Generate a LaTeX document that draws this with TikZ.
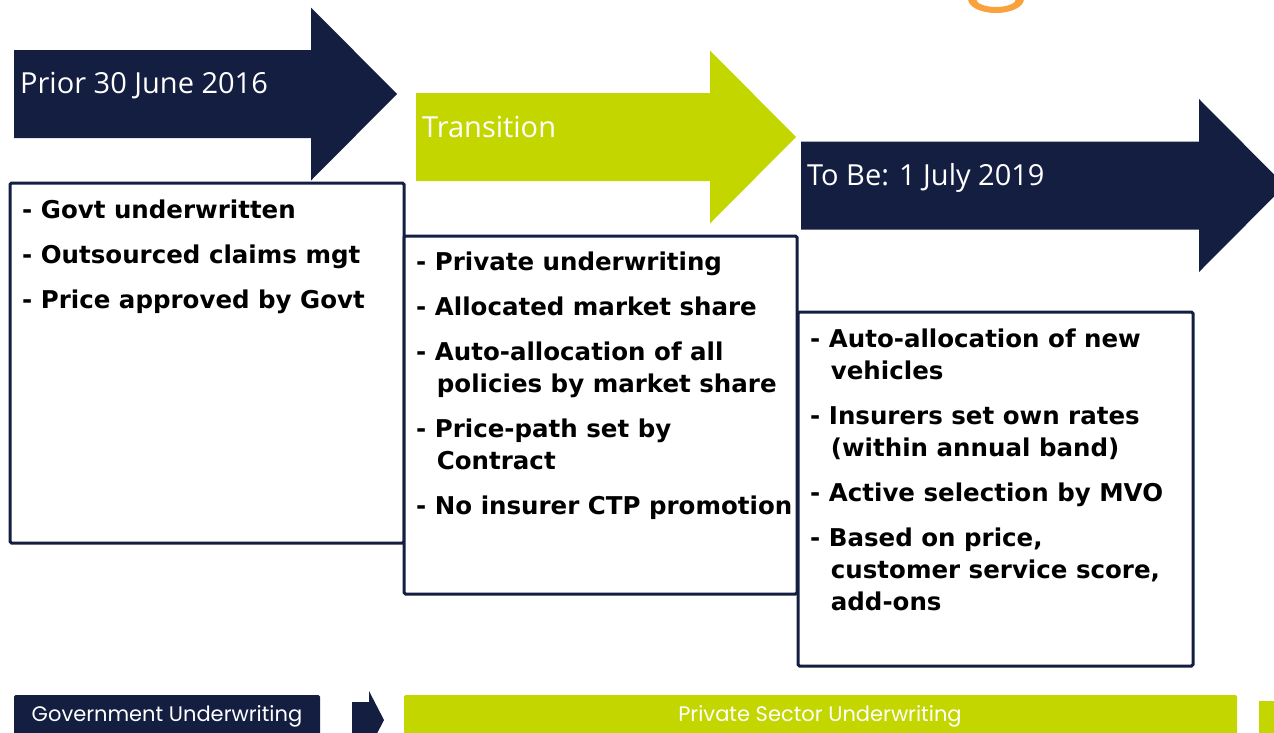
\documentclass[tikz,border=0pt]{standalone}
\usepackage{fontspec}
\setmainfont{DejaVu Sans}
\newfontfamily\headfont{Open Sans}
\newfontfamily\barfont{Poppins}
\usepackage{xcolor}
\definecolor{ctpnavy}{HTML}{131E41}
\definecolor{ctplime}{HTML}{C4D600}
\definecolor{ctporange}{HTML}{F9A13A}
\usetikzlibrary{positioning}

% second line of a wrapped bullet, lined up under the text
\newcommand{\cont}{\\\phantom{- }\kern2pt}

\begin{document}
\begin{tikzpicture}[x=1pt, y=-1pt,
		phasebox/.style={draw=ctpnavy, line width=3pt, fill=white, rounded corners=1.5pt,
			anchor=north west, inner sep=0pt, outer sep=0pt},
		itemtext/.style={anchor=north west, inner sep=0pt, align=left,
			font=\bfseries\fontsize{24.5}{32}\selectfont},
		headtext/.style={anchor=base west, inner sep=0pt, text=white,
			font=\headfont\fontsize{29}{32}\selectfont},
		barbox/.style={anchor=north west, inner sep=0pt, outer sep=0pt, rounded corners=1.5pt},
		bartext/.style={anchor=base, inner sep=0pt, text=white,
			font=\barfont\fontsize{21}{24}\selectfont}]

		\useasboundingbox (0,0) rectangle (1274,732);
		\clip (0,0) rectangle (1274,732);

		% ================= Tail of the title letter at the top edge =================
		\fill[ctporange, even odd rule]
			(996,-1) ellipse [x radius=28pt, y radius=14pt]
			(996,-1) ellipse [x radius=20pt, y radius=8pt];

		% ================= Phase arrows =================
		% left end, head base, centre line, colour
		\foreach \xa/\xb/\yc/\col in {14/311/94/ctpnavy, 416/710/137/ctplime, 801/1199/185.5/ctpnavy}{
			\fill[\col] (\xa,\yc-44) -- (\xb,\yc-44) -- (\xb,\yc-86.5) -- (\xb+86,\yc)
				-- (\xb,\yc+86.5) -- (\xb,\yc+44) -- (\xa,\yc+44) -- cycle;
		}

		\node[headtext] (prior) at (20,93) {Prior 30 June 2016};
		\node[headtext] (trans) at (422,137) {Transition};
		\node[headtext] (tobe) at (807,185) {To Be: 1 July 2019};

		% ================= Phase boxes =================
		\node[phasebox, minimum width=394pt, minimum height=360pt] (box1) at (10,183) {};
		\node[phasebox, minimum width=393pt, minimum height=358pt] (box2) at (404,236) {};
		\node[phasebox, minimum width=395pt, minimum height=354pt] (box3) at (798,312) {};

		\node[itemtext] (list1) at ([shift={(12,12.6)}]box1.north west)
			{\strut- Govt underwritten\\[13pt]- Outsourced claims mgt\\[13pt]- Price approved by Govt};

		\node[itemtext] (list2) at ([shift={(12,11.6)}]box2.north west)
			{\strut- Private underwriting\\[13pt]- Allocated market share\\[13pt]- Auto-allocation of all\cont policies by market share\\[13pt]- Price-path set by\cont Contract\\[13pt]- No insurer CTP promotion};

		\node[itemtext] (list3) at ([shift={(12,12.6)}]box3.north west)
			{\strut- Auto-allocation of new\cont vehicles\\[13pt]- Insurers set own rates\cont (within annual band)\\[13pt]- Active selection by MVO\\[13pt]- Based on price,\cont customer service score,\cont add-ons};

		% ================= Underwriting bar =================
		\node[barbox, fill=ctpnavy, minimum width=306pt, minimum height=50pt] (govbar) at (14,695) {};
		\node[bartext] (govtext) at (167,721) {Government Underwriting};

		\fill[ctpnavy] (352,702) -- (369,702) -- (369,691) -- (384,720) -- (369,749)
			-- (369,738) -- (352,738) -- cycle;

		\node[barbox, fill=ctplime, minimum width=833pt, minimum height=50pt] (privbar) at (404,695) {};
		\node[bartext] (privtext) at (820,721) {Private Sector Underwriting};

		\fill[ctplime] (1259,701) rectangle (1290,745);

	\end{tikzpicture}
\end{document}
